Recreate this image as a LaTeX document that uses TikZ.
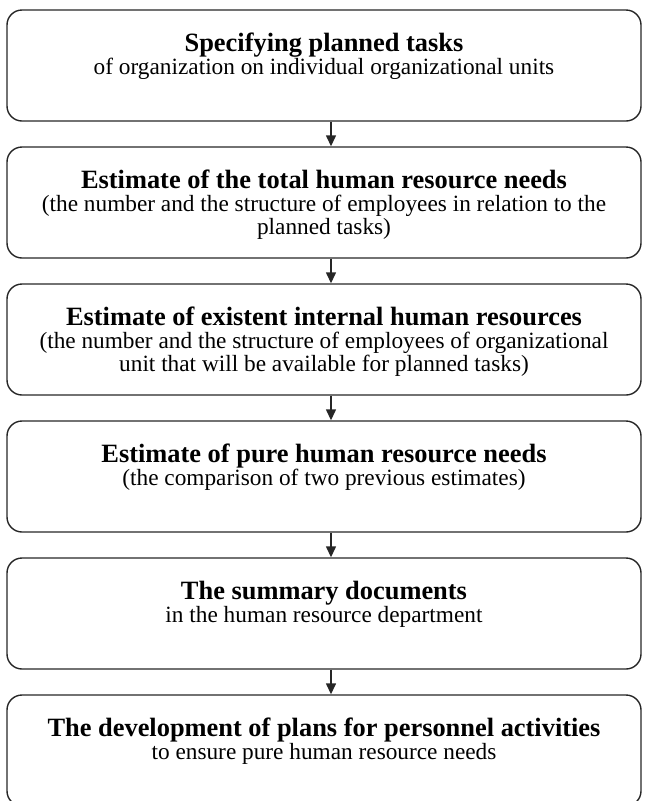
\documentclass[tikz,border=0pt]{standalone}
\usepackage{fontspec}
\setmainfont{Liberation Serif}
\usetikzlibrary{arrows.meta,calc}
\newcommand{\steptext}[2]{\parbox[c][111pt][t]{634pt}{\centering\fontsize{23.3}{22.5}\selectfont
  \rule{0pt}{41pt}{\fontsize{26.4}{22.5}\selectfont\bfseries #1}\\[1pt]#2}}

\begin{document}
\begin{tikzpicture}[x=1pt,y=-1pt,
    stepbox/.style={draw=black!85,line width=1.4pt,rounded corners=15pt,inner sep=0pt,
      minimum width=634pt,minimum height=111pt},
    flow/.style={draw=black!85,line width=1.4pt,-{Triangle[length=11pt,width=10pt]}}]
            \useasboundingbox(0,0)rectangle(646,801);
            %ステップ
            \node[stepbox](b1)at(324,65.5){\steptext{Specifying planned tasks}{of organization on individual organizational units}};
            \node[stepbox](b2)at(324,202.5){\steptext{Estimate of the total human resource needs}{(the number and the structure of employees in relation to the\\planned tasks)}};
            \node[stepbox](b3)at(324,339.5){\steptext{Estimate of existent internal human resources}{(the number and the structure of employees of organizational\\unit that will be available for planned tasks)}};
            \node[stepbox](b4)at(324,476.5){\steptext{Estimate of pure human resource needs}{(the comparison of two previous estimates)}};
            \node[stepbox](b5)at(324,613.5){\steptext{The summary documents}{in the human resource department}};
            \node[stepbox](b6)at(324,750.5){\steptext{The development of plans for personnel activities}{to ensure pure human resource needs}};
            %矢印
            \path[flow]([xshift=7pt]b1.south)to([xshift=7pt]b2.north);
            \path[flow]([xshift=7pt]b2.south)to([xshift=7pt]b3.north);
            \path[flow]([xshift=7pt]b3.south)to([xshift=7pt]b4.north);
            \path[flow]([xshift=7pt]b4.south)to([xshift=7pt]b5.north);
            \path[flow]([xshift=7pt]b5.south)to([xshift=7pt]b6.north);
\end{tikzpicture}
\end{document}
